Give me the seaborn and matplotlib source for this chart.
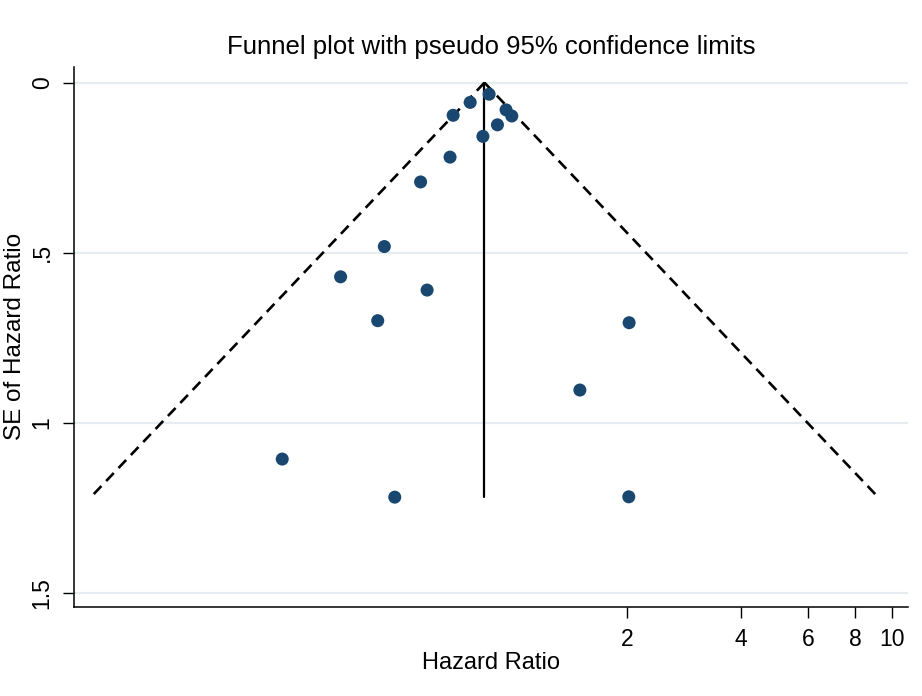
import numpy as np
import pandas as pd
import matplotlib
matplotlib.use("Agg")
import matplotlib.pyplot as plt
import seaborn as sns
from matplotlib.ticker import FixedLocator, FixedFormatter, NullLocator

# study estimates
hazard_ratio = [0.867, 0.773, 0.697, 0.961, 0.995, 0.912, 0.835, 0.684, 0.572,
                0.459, 0.352, 0.595, 0.441, 2.028, 1.504, 0.247, 0.489, 2.024]
se_log_hr = [0.034, 0.058, 0.096, 0.080, 0.098, 0.124, 0.158, 0.219, 0.292,
             0.482, 0.571, 0.610, 0.700, 0.706, 0.904, 1.107, 1.219, 1.218]
pooled_hr = 0.843

x_ticks = [2, 4, 6, 8, 10]
x_tick_labels = ["2", "4", "6", "8", "10"]
y_ticks = [0, 0.5, 1, 1.5]
y_tick_labels = ["0", ".5", "1", "1.5"]

df = pd.DataFrame({"hr": hazard_ratio, "se": se_log_hr})

sns.set_style("white")
plt.rcParams["font.family"] = ["Liberation Sans", "DejaVu Sans"]
plt.rcParams.update({"text.color": "black", "axes.labelcolor": "black",
                     "xtick.color": "black", "ytick.color": "black"})

fig = plt.figure(figsize=(9.22, 6.96), dpi=100)
ax = fig.add_axes([0.0808, 0.1279, 0.904, 0.7763])

# horizontal grid lines (Stata style)
for yv in y_ticks:
    ax.axhline(yv, color="#e6edf0", lw=1.6, zorder=0)

# pseudo 95% confidence limits
se_max = max(se_log_hr)
se_line = np.array([0.0, se_max])
center = np.log(pooled_hr)
ax.plot(np.exp(center - 1.96 * se_line), se_line, color="black", lw=1.9,
        dashes=(4.2, 2.6), zorder=2)
ax.plot(np.exp(center + 1.96 * se_line), se_line, color="black", lw=1.9,
        dashes=(4.2, 2.6), zorder=2)
ax.plot([pooled_hr, pooled_hr], se_line, color="black", lw=1.6, zorder=2)

sns.scatterplot(data=df, x="hr", y="se", ax=ax, color="#1a476f", s=88,
                edgecolor="none", zorder=3, legend=False)

ax.set_xscale("log")
ax.set_xlim(0.070, 11.02)
ax.set_ylim(1.542, -0.047)

ax.xaxis.set_major_locator(FixedLocator(x_ticks))
ax.xaxis.set_major_formatter(FixedFormatter(x_tick_labels))
ax.xaxis.set_minor_locator(NullLocator())
ax.set_yticks(y_ticks)
ax.set_yticklabels(y_tick_labels, rotation=90, va="center")

ax.tick_params(axis="both", direction="out", length=8, width=1, color="black",
               labelsize=16.5, bottom=True, left=True)
ax.tick_params(axis="x", pad=7)
ax.tick_params(axis="y", pad=7)

for side in ["top", "right"]:
    ax.spines[side].set_visible(False)
for side in ["left", "bottom"]:
    ax.spines[side].set_color("black")
    ax.spines[side].set_linewidth(1.1)

ax.set_xlabel("Hazard Ratio", fontsize=17, labelpad=1)
ax.set_ylabel("SE of Hazard Ratio", fontsize=17.5, labelpad=3)
ax.set_title("Funnel plot with pseudo 95% confidence limits", fontsize=18.5, pad=9)

fig.savefig("out.png", dpi=100, facecolor="white")
